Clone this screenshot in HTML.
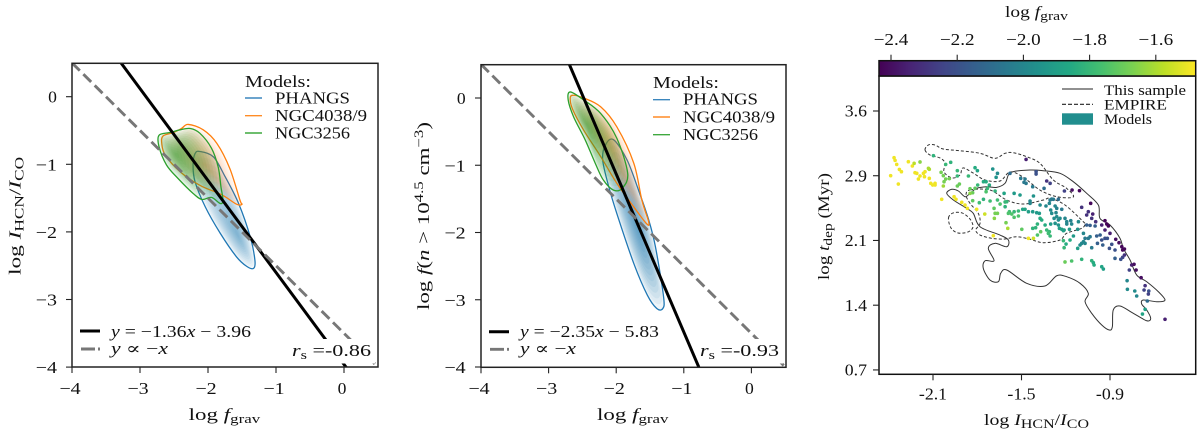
<!DOCTYPE html>
<html lang="en">
<head>
<meta charset="utf-8">
<title>Dense gas fraction versus gravitational boundedness</title>
<style>
html,body{margin:0;padding:0;background:#fff;width:1200px;height:433px;overflow:hidden}
svg{display:block;filter:blur(0.35px)}
text{font-family:"Liberation Serif","DejaVu Serif",serif;fill:#111;font-size:17px}
.i{font-style:italic}
.s{font-size:12.5px}
.lg{font-size:16.5px}
</style>
</head>
<body>
<svg id="chart" xmlns="http://www.w3.org/2000/svg" width="1200" height="433" viewBox="0 0 1200 433">
  <defs>
    <clipPath id="clip-left"><rect x="72" y="63.3" width="306" height="303.7"/></clipPath>
    <clipPath id="clip-mid"><rect x="481" y="64.7" width="305" height="302.6"/></clipPath>
    <clipPath id="clip-right"><rect x="879" y="76" width="316.7" height="298.3"/></clipPath>
    <linearGradient id="viridis-gradient" x1="0" x2="1" y1="0" y2="0"></linearGradient>
  </defs>
  <rect width="1200" height="433" fill="#fff"/>
  <g id="left-marks" clip-path="url(#clip-left)"></g>
  <g id="mid-marks" clip-path="url(#clip-mid)"></g>
  <g id="right-marks" clip-path="url(#clip-right)"></g>

  <rect x="290" y="339" width="85" height="24.5" fill="#fff"/>
  <rect x="699" y="339" width="84" height="24.5" fill="#fff"/>

  <rect x="72" y="63.3" width="306" height="303.7" fill="none" stroke="#222" stroke-width="1.5"/>
  <rect x="481" y="64.7" width="305" height="302.6" fill="none" stroke="#222" stroke-width="1.5"/>
  <rect x="879" y="76" width="316.7" height="298.3" fill="none" stroke="#111" stroke-width="1.5"/>
  <rect x="879" y="60.7" width="316.7" height="15.3" fill="url(#viridis-gradient)" stroke="#111" stroke-width="1.5"/>
  <g id="ticks"></g>

  <!-- left labels -->
  <text x="188.7" y="420" textLength="71.5" lengthAdjust="spacingAndGlyphs">log <tspan class="i">f</tspan><tspan class="s" dy="3">grav</tspan></text>
  <text transform="translate(20.5,275) rotate(-90)" textLength="118" lengthAdjust="spacingAndGlyphs">log <tspan class="i">I</tspan><tspan class="s" dy="3">HCN</tspan><tspan dy="-3">/</tspan><tspan class="i">I</tspan><tspan class="s" dy="3">CO</tspan></text>
  <g>
    <text x="245" y="87" textLength="66" lengthAdjust="spacingAndGlyphs">Models:</text>
    <line x1="245" x2="262" y1="98" y2="98" stroke="#3b86bd" stroke-width="1.4"/>
    <text class="lg" x="275" y="103.5" textLength="75" lengthAdjust="spacingAndGlyphs">PHANGS</text>
    <line x1="245" x2="262" y1="115.7" y2="115.7" stroke="#ff8c26" stroke-width="1.4"/>
    <text class="lg" x="275" y="121" textLength="92" lengthAdjust="spacingAndGlyphs">NGC4038/9</text>
    <line x1="245" x2="262" y1="133" y2="133" stroke="#3fa93f" stroke-width="1.4"/>
    <text class="lg" x="275" y="138.5" textLength="75" lengthAdjust="spacingAndGlyphs">NGC3256</text>
  </g>
  <g>
    <line x1="80" x2="100" y1="331" y2="331" stroke="#000" stroke-width="3"/>
    <text class="lg" x="111" y="337" textLength="140" lengthAdjust="spacingAndGlyphs"><tspan class="i">y</tspan> = −1.36<tspan class="i">x</tspan> − 3.96</text>
    <line x1="81" x2="100" y1="349" y2="349" stroke="#777" stroke-width="2.9" stroke-dasharray="14 3 2 3"/>
    <text class="lg" x="111" y="354" textLength="57" lengthAdjust="spacingAndGlyphs"><tspan class="i">y</tspan> ∝ −<tspan class="i">x</tspan></text>
    <text x="292" y="356" textLength="79" lengthAdjust="spacingAndGlyphs"><tspan class="i">r</tspan><tspan class="s" dy="3">s</tspan><tspan dy="-3"> =-0.86</tspan></text>
  </g>

  <!-- middle labels -->
  <text x="597" y="420" textLength="71.5" lengthAdjust="spacingAndGlyphs">log <tspan class="i">f</tspan><tspan class="s" dy="3">grav</tspan></text>
  <text transform="translate(429,310) rotate(-90)" textLength="188" lengthAdjust="spacingAndGlyphs">log <tspan class="i">f</tspan>(<tspan class="i">n</tspan> &gt; 10<tspan class="s" dy="-6">4.5</tspan><tspan dy="6"> cm</tspan><tspan class="s" dy="-6">−3</tspan><tspan dy="6">)</tspan></text>
  <g>
    <text x="653" y="88" textLength="66" lengthAdjust="spacingAndGlyphs">Models:</text>
    <line x1="653" x2="670" y1="99.7" y2="99.7" stroke="#3b86bd" stroke-width="1.4"/>
    <text class="lg" x="683" y="104.7" textLength="75" lengthAdjust="spacingAndGlyphs">PHANGS</text>
    <line x1="653" x2="670" y1="117" y2="117" stroke="#ff8c26" stroke-width="1.4"/>
    <text class="lg" x="683" y="122.3" textLength="92" lengthAdjust="spacingAndGlyphs">NGC4038/9</text>
    <line x1="653" x2="670" y1="134.7" y2="134.7" stroke="#3fa93f" stroke-width="1.4"/>
    <text class="lg" x="683" y="140" textLength="75" lengthAdjust="spacingAndGlyphs">NGC3256</text>
  </g>
  <g>
    <line x1="489" x2="509" y1="331.7" y2="331.7" stroke="#000" stroke-width="3"/>
    <text class="lg" x="520" y="337" textLength="139" lengthAdjust="spacingAndGlyphs"><tspan class="i">y</tspan> = −2.35<tspan class="i">x</tspan> − 5.83</text>
    <line x1="490" x2="509" y1="349.3" y2="349.3" stroke="#777" stroke-width="2.9" stroke-dasharray="14 3 2 3"/>
    <text class="lg" x="520" y="354" textLength="56" lengthAdjust="spacingAndGlyphs"><tspan class="i">y</tspan> ∝ −<tspan class="i">x</tspan></text>
    <text x="700" y="356" textLength="79" lengthAdjust="spacingAndGlyphs"><tspan class="i">r</tspan><tspan class="s" dy="3">s</tspan><tspan dy="-3"> =-0.93</tspan></text>
  </g>

  <!-- right labels -->
  <text x="1005" y="17" textLength="63" lengthAdjust="spacingAndGlyphs" style="font-size:15.5px">log <tspan class="i">f</tspan><tspan class="s" dy="3">grav</tspan></text>
  <text x="984" y="425" textLength="105" lengthAdjust="spacingAndGlyphs" style="font-size:15.5px">log <tspan class="i">I</tspan><tspan class="s" dy="3">HCN</tspan><tspan dy="-3">/</tspan><tspan class="i">I</tspan><tspan class="s" dy="3">CO</tspan></text>
  <text transform="translate(829,280) rotate(-90)" textLength="107" lengthAdjust="spacingAndGlyphs" style="font-size:15.5px">log <tspan class="i">t</tspan><tspan class="s" dy="3">dep</tspan><tspan dy="-3"> (Myr)</tspan></text>
  <g>
    <line x1="1062" x2="1093" y1="89" y2="89" stroke="#222" stroke-width="1.1"/>
    <text x="1104" y="95" textLength="82" lengthAdjust="spacingAndGlyphs" style="font-size:15px">This sample</text>
    <line x1="1062" x2="1093" y1="104.3" y2="104.3" stroke="#222" stroke-width="1.1" stroke-dasharray="4 2"/>
    <text x="1104" y="109.5" textLength="63" lengthAdjust="spacingAndGlyphs" style="font-size:15px">EMPIRE</text>
    <rect x="1062" y="113.3" width="31" height="11.4" fill="#218e8e"/>
    <text x="1104" y="124" textLength="48" lengthAdjust="spacingAndGlyphs" style="font-size:15px">Models</text>
  </g>
</svg>

<script>
// ---- tick values and labels ----
const leftXTicks = [-4, -3, -2, -1, 0];
const leftYTicks = [0, -1, -2, -3, -4];
const midXTicks = [-4, -3, -2, -1, 0];
const midYTicks = [0, -1, -2, -3, -4];
const rightXTicks = [-2.1, -1.5, -0.9];
const rightXLabels = ['-2.1', '-1.5', '-0.9'];
const rightYTicks = [3.6, 2.875, 2.15, 1.425, 0.7];
const rightYLabels = ['3.6', '2.9', '2.1', '1.4', '0.7'];
const colorbarTicks = [-2.4, -2.2, -2.0, -1.8, -1.6];
const colorbarLabels = ['−2.4', '−2.2', '−2.0', '−1.8', '−1.6'];
const fgravMin = -2.436;
const fgravMax = -1.48;

// ---- fit lines ----
const leftFit = [-1.36, -3.96];
const midFit = [-2.35, -5.83];
const referenceLine = [-1, -3.5];

// ---- model density outlines (log fgrav, log ratio) ----
const leftPhangs = [[-2.12,-0.81],[-1.92,-0.89],[-1.75,-1.18],[-1.55,-1.58],[-1.38,-2.07],[-1.31,-2.42],[-1.33,-2.54],[-1.43,-2.51],[-1.58,-2.37],[-1.82,-2.02],[-2.04,-1.63],[-2.19,-1.26],[-2.22,-1.01],[-2.19,-0.84]];
const leftPhangsPeak = [-1.56, -2.05];
const leftOrange = [[-2.29,-0.41],[-2.07,-0.49],[-1.87,-0.69],[-1.68,-1.06],[-1.53,-1.53],[-1.50,-1.59],[-1.58,-1.59],[-1.80,-1.45],[-2.12,-1.31],[-2.41,-1.11],[-2.63,-0.86],[-2.68,-0.69],[-2.66,-0.58],[-2.51,-0.53],[-2.39,-0.47]];
const leftOrangePeak = [-2.05, -1.0];
const leftGreen = [[-2.72,-0.57],[-2.56,-0.53],[-2.41,-0.49],[-2.26,-0.47],[-2.12,-0.54],[-1.95,-0.76],[-1.85,-1.04],[-1.81,-1.33],[-1.78,-1.53],[-1.82,-1.58],[-1.95,-1.49],[-2.09,-1.52],[-2.22,-1.43],[-2.44,-1.21],[-2.61,-1.01],[-2.72,-0.74]];
const leftGreenPeak = [-2.47, -0.86];

const midPhangs = [[-2.04,-0.62],[-1.84,-0.92],[-1.67,-1.37],[-1.52,-1.81],[-1.42,-2.21],[-1.30,-2.95],[-1.31,-3.13],[-1.40,-3.13],[-1.54,-2.93],[-1.74,-2.46],[-1.99,-1.72],[-2.11,-1.32],[-2.20,-0.92],[-2.16,-0.70]];
const midPhangsPeak = [-1.68, -1.95];
const midOrange = [[-2.65,0.04],[-2.48,0],[-2.23,-0.13],[-1.99,-0.43],[-1.74,-0.97],[-1.62,-1.52],[-1.52,-1.84],[-1.55,-1.87],[-1.74,-1.62],[-1.99,-1.27],[-2.23,-0.87],[-2.48,-0.48],[-2.64,-0.18],[-2.68,-0.03]];
const midOrangePeak = [-2.11, -0.67];
const midGreen = [[-2.68,0.09],[-2.48,-0.03],[-2.23,-0.23],[-1.99,-0.6],[-1.83,-1.12],[-1.91,-1.34],[-2.04,-1.37],[-2.19,-1.22],[-2.31,-0.97],[-2.46,-0.62],[-2.63,-0.28],[-2.71,-0.03]];
const midGreenPeak = [-2.43, -0.4];

// ---- sample and EMPIRE contours (log HCN/CO, log tdep) ----
const sampleContour = [[-2.007,2.678],[-1.973,2.723],[-1.928,2.704],[-1.883,2.64],[-1.849,2.678],[-1.804,2.734],[-1.736,2.752],[-1.668,2.745],[-1.612,2.79],[-1.589,2.883],[-1.558,2.92],[-1.442,2.939],[-1.352,2.931],[-1.239,2.902],[-1.149,2.808],[-1.058,2.678],[-0.979,2.547],[-0.968,2.398],[-0.9,2.323],[-0.832,2.174],[-0.81,2.062],[-0.764,1.931],[-0.719,1.763],[-0.651,1.688],[-0.572,1.576],[-0.527,1.483],[-0.583,1.464],[-0.674,1.483],[-0.685,1.438],[-0.651,1.371],[-0.624,1.278],[-0.651,1.251],[-0.742,1.334],[-0.832,1.416],[-0.878,1.371],[-0.884,1.184],[-0.905,1.147],[-0.956,1.203],[-1.024,1.334],[-1.069,1.464],[-1.047,1.558],[-1.103,1.67],[-1.194,1.744],[-1.261,1.755],[-1.341,1.64],[-1.465,1.67],[-1.6,1.819],[-1.641,1.782],[-1.657,1.688],[-1.714,1.707],[-1.759,1.838],[-1.747,1.923],[-1.686,1.923],[-1.725,2.062],[-1.68,2.118],[-1.6,2.08],[-1.589,2.155],[-1.646,2.211],[-1.781,2.304],[-1.827,2.454],[-1.872,2.51],[-1.962,2.603]];
const empireUpper = [[-2.154,3.163],[-2.132,3.219],[-2.086,3.219],[-2.03,3.174],[-1.917,3.155],[-1.781,3.126],[-1.68,3.07],[-1.612,3.126],[-1.556,3.133],[-1.465,3.088],[-1.375,3.014],[-1.284,2.827],[-1.194,2.734],[-1.149,2.637],[-1.261,2.64],[-1.375,2.715],[-1.49,2.861],[-1.578,2.917],[-1.646,2.816],[-1.747,2.827],[-1.829,2.906],[-1.897,2.962],[-1.917,2.883],[-1.971,2.85],[-2.025,2.917],[-2.019,3.018],[-2.053,3.074],[-2.12,3.107]];
const empireLower = [[-1.849,2.715],[-1.714,2.715],[-1.6,2.603],[-1.488,2.558],[-1.352,2.603],[-1.307,2.622],[-1.205,2.547],[-1.081,2.36],[-1.069,2.334],[-1.092,2.286],[-1.194,2.23],[-1.239,2.155],[-1.352,2.125],[-1.442,2.163],[-1.533,2.192],[-1.612,2.166],[-1.702,2.174],[-1.781,2.211],[-1.81,2.267],[-1.781,2.342],[-1.793,2.454],[-1.849,2.566],[-1.876,2.659]];
const empireIsland = [[-1.995,2.402],[-1.964,2.458],[-1.903,2.458],[-1.849,2.39],[-1.829,2.301],[-1.863,2.245],[-1.93,2.234],[-1.978,2.29]];

// ---- scatter points ----
const pointX = [
-2.364,-2.357,-2.346,-2.328,-2.314,-2.387,-2.335,-2.267,-2.240,-2.228,
-2.222,-2.210,-2.188,-2.165,-2.154,-2.131,-2.125,-2.199,-2.158,-2.125,
-2.115,-2.086,-2.102,-2.086,-2.030,-2.188,-2.041,-1.957,-1.944,-1.905,
-1.883,-1.867,-1.804,-1.749,-1.691,-1.593,-2.045,-2.030,-1.989,-2.014,
-2.025,-1.921,-1.935,-1.935,-1.849,-1.831,-2.097,-2.014,-1.980,-1.935,
-1.860,-1.815,-1.799,-1.695,-1.663,-1.672,-1.578,-1.469,-1.401,-1.401,
-1.505,-1.476,-1.483,-1.469,-1.424,-1.758,-1.740,-1.718,-1.731,-1.679,
-1.740,-1.797,-1.815,-1.849,-1.831,-1.786,-1.758,-1.713,-1.663,-1.618,
-1.550,-1.510,-1.645,-1.611,-1.600,-1.686,-1.611,-1.582,-1.550,-1.521,
-1.492,-1.476,-1.589,-1.566,-1.663,-1.684,-1.679,-1.550,-1.521,-1.605,
-1.498,-1.424,-1.404,-1.392,-1.392,-1.442,-1.419,-1.442,-1.453,-1.424,
-1.397,-1.379,-1.419,-1.453,
-1.329,-1.306,-1.347,-1.209,-1.157,-1.107,-1.334,-1.374,-1.306,-1.295,
-1.284,-1.250,-1.311,-1.272,-1.261,-1.227,-1.302,-1.295,-1.266,-1.092,
-1.058,-1.047,-1.017,-1.024,-1.031,-0.997,-0.934,-0.922,-0.911,-0.956,
-0.900,-0.934,-1.058,-1.035,-1.001,-0.967,-0.990,-0.956,-0.934,-0.918,
-0.949,-0.985,-1.035,-1.047,-1.069,-1.080,-1.114,-1.119,-1.175,-1.216,
-1.148,-1.171,-1.216,-1.080,-1.092,-1.103,-1.069,-1.119,-1.024,-1.211,
-1.198,-0.861,-0.839,-0.820,-0.802,-0.814,-0.888,-0.904,-0.866,-0.802,
-0.814,-0.827,-0.866,-0.753,-0.737,-0.769,-0.723,-0.689,-0.784,-0.662,
-0.669,-0.637,-0.640,-0.782,-0.732,-0.719,-0.647,-0.662,-0.680,-0.527,
-1.205,-1.160,-1.092,-1.024,-1.013,-1.008,-0.956,-0.945,
-1.374,-1.363,-1.340,-1.302,-1.279,-1.261,-1.250,-1.239,-1.272,-1.250,
-1.205,-1.193,-1.166,-1.160,-1.193,-1.329,-1.311,-1.370,-1.318,-1.306,
-1.243,-1.227,-1.211
];
const pointY = [
3.077,3.047,3.002,2.946,2.920,2.876,2.782,3.032,2.984,3.014,
2.909,2.902,2.872,2.902,2.920,2.958,2.947,2.838,2.864,2.846,
2.790,2.790,2.771,2.771,2.760,3.029,2.611,2.640,2.611,2.577,
2.547,2.510,2.499,2.446,2.204,2.286,2.913,2.876,2.842,2.838,
2.808,2.782,2.760,2.872,2.730,2.685,3.100,3.002,3.025,2.932,
2.872,2.965,2.932,2.950,2.902,2.857,2.902,3.058,2.920,2.894,
2.846,2.838,2.801,2.790,2.752,2.808,2.808,2.771,2.734,2.704,
2.696,2.771,2.734,2.678,2.596,2.573,2.611,2.592,2.603,2.678,
2.678,2.659,2.558,2.581,2.584,2.510,2.528,2.472,2.472,2.480,
2.499,2.499,2.454,2.446,2.454,2.398,2.454,2.409,2.424,2.349,
2.275,2.286,2.293,2.334,2.211,2.592,2.648,2.566,2.472,2.472,
2.461,2.454,2.174,2.174,
2.816,2.790,2.734,2.704,2.715,2.708,2.536,2.547,2.603,2.614,
2.611,2.611,2.566,2.536,2.510,2.499,2.491,2.454,2.461,2.521,
2.435,2.472,2.446,2.398,2.566,2.360,2.372,2.334,2.312,2.323,
2.230,2.267,2.323,2.319,2.312,2.211,2.200,2.155,2.174,2.174,
2.099,2.118,2.192,2.174,2.174,2.230,2.360,2.275,2.275,2.260,
2.200,2.155,2.148,2.136,2.118,2.099,2.118,2.062,2.069,2.069,
2.110,2.163,2.125,2.080,2.054,2.043,2.107,2.062,2.043,1.987,
1.961,1.939,1.950,1.875,1.883,1.819,1.819,1.733,1.700,1.644,
1.595,1.584,1.550,1.603,1.584,1.528,1.472,1.379,1.326,1.267,
1.909,1.920,1.939,1.924,1.901,1.875,1.856,1.830,
2.398,2.379,2.323,2.334,2.398,2.416,2.379,2.398,2.342,2.323,
2.398,2.360,2.372,2.334,2.334,2.267,2.248,2.248,2.230,2.200,
2.286,2.275,2.267
];
const pointF = [
-1.5,-1.5,-1.5,-1.5,-1.5,-1.5,-1.5,-1.5,-1.5,-1.58,
-1.5,-1.5,-1.5,-1.5,-1.5,-1.6,-1.6,-1.5,-1.5,-1.5,
-1.5,-1.5,-1.5,-1.5,-1.62,-1.65,-1.5,-1.5,-1.5,-1.5,
-1.5,-1.5,-1.5,-1.55,-1.5,-1.6,-1.68,-1.68,-1.68,-1.68,
-1.68,-1.7,-1.7,-1.8,-1.7,-1.7,-1.82,-1.8,-1.82,-1.8,
-1.8,-1.85,-1.88,-1.95,-1.98,-1.95,-2.1,-2.35,-2.2,-2.2,
-2.05,-2.05,-2.05,-2.05,-2.05,-1.85,-1.85,-1.85,-1.8,-1.82,
-1.75,-1.8,-1.72,-1.65,-1.72,-1.78,-1.82,-1.78,-1.78,-1.88,
-1.92,-1.92,-1.75,-1.8,-1.8,-1.72,-1.82,-1.78,-1.8,-1.8,
-1.88,-1.88,-1.75,-1.75,-1.68,-1.65,-1.68,-1.75,-1.75,-1.68,
-1.72,-1.82,-1.82,-1.82,-1.75,-2.0,-1.95,-2.0,-1.9,-1.92,
-1.92,-1.92,-1.55,-1.5,
-2.3,-2.25,-2.1,-2.25,-2.4,-2.42,-2.0,-1.98,-2.05,-2.05,
-2.05,-2.1,-2.0,-2.0,-2.02,-2.05,-1.98,-1.98,-2.0,-2.3,
-2.3,-2.3,-2.35,-2.3,-2.42,-2.3,-2.43,-2.43,-2.43,-2.35,
-2.35,-2.35,-2.15,-2.15,-2.15,-2.15,-2.15,-2.2,-2.2,-2.2,
-2.15,-2.15,-2.05,-2.05,-2.05,-2.0,-1.98,-1.95,-1.92,-1.9,
-1.92,-1.85,-1.8,-2.0,-2.0,-1.98,-2.0,-1.9,-2.05,-1.8,
-1.85,-2.4,-2.4,-2.42,-2.42,-2.42,-2.2,-2.2,-2.2,-2.3,
-2.25,-2.2,-2.15,-2.35,-2.4,-2.25,-2.4,-2.4,-2.0,-2.3,
-2.25,-2.2,-2.25,-1.98,-1.98,-2.0,-2.1,-1.9,-1.88,-2.35,
-1.7,-1.75,-1.82,-1.82,-1.85,-1.85,-1.88,-1.9,
-1.85,-1.85,-1.85,-1.92,-1.98,-1.98,-1.98,-1.98,-1.95,-1.95,
-2.0,-2.0,-2.02,-2.0,-2.0,-1.8,-1.8,-1.72,-1.78,-1.8,
-1.9,-1.9,-1.9
];
const viridisStops = ['#440154','#482475','#414487','#355f8d','#2a788e','#21918c','#22a884','#44bf70','#7ad151','#bddf26','#fde725'];

// ---- axis functions ----
function xLeft(v) { return 72 + (v + 4) * 68; }
function yLeft(v) { return 96.7 - v * 67.6; }
function xMid(v) { return 481 + (v + 4) * 67.6; }
function yMid(v) { return 98 - v * 67.25; }
function xRight(v) { return 933 + (v + 2.1) * 147.5; }
function yRight(v) { return 111 + (3.6 - v) / 0.0112; }
function xBar(v) { return 891 + (v + 2.4) * 331; }

const NS = 'http://www.w3.org/2000/svg';
function mk(parent, tag, attrs, name) {
  const el = document.createElementNS(NS, tag);
  for (const k in attrs) el.setAttribute(k, attrs[k]);
  
  
  parent.appendChild(el);
  return el;
}
function smooth(pts) {
  const n = pts.length;
  let d = 'M' + pts[0][0].toFixed(2) + ' ' + pts[0][1].toFixed(2);
  for (let i = 0; i < n; i++) {
    const p0 = pts[(i - 1 + n) % n], p1 = pts[i], p2 = pts[(i + 1) % n], p3 = pts[(i + 2) % n];
    const c1x = p1[0] + (p2[0] - p0[0]) / 6, c1y = p1[1] + (p2[1] - p0[1]) / 6;
    const c2x = p2[0] - (p3[0] - p1[0]) / 6, c2y = p2[1] - (p3[1] - p1[1]) / 6;
    d += 'C' + c1x.toFixed(2) + ' ' + c1y.toFixed(2) + ' ' + c2x.toFixed(2) + ' ' + c2y.toFixed(2) + ' ' + p2[0].toFixed(2) + ' ' + p2[1].toFixed(2);
  }
  return d + 'Z';
}
function hex(c) { return [parseInt(c.substr(1, 2), 16), parseInt(c.substr(3, 2), 16), parseInt(c.substr(5, 2), 16)]; }
function viridis(f) {
  let t = (f - fgravMin) / (fgravMax - fgravMin);
  t = Math.max(0, Math.min(1, t)) * (viridisStops.length - 1);
  const i = Math.min(viridisStops.length - 2, Math.floor(t));
  const a = hex(viridisStops[i]), b = hex(viridisStops[i + 1]), u = t - i;
  return 'rgb(' + Math.round(a[0] + (b[0] - a[0]) * u) + ',' + Math.round(a[1] + (b[1] - a[1]) * u) + ',' + Math.round(a[2] + (b[2] - a[2]) * u) + ')';
}
function drawKde(g, outline, peak, color, alpha, sx, sy, name) {
  const px = outline.map(p => [sx(p[0]), sy(p[1])]);
  const cx = sx(peak[0]), cy = sy(peak[1]);
  const levels = 14;
  for (let k = 0; k < levels; k++) {
    const s = 1 - k / levels;
    const scaled = px.map(p => [cx + (p[0] - cx) * s, cy + (p[1] - cy) * s]);
    mk(g, 'path', { d: smooth(scaled), fill: color, 'fill-opacity': alpha, stroke: 'none' }, name + '-density-level');
  }
  mk(g, 'path', { d: smooth(px), fill: 'none', stroke: color, 'stroke-width': 1.3 }, name + '-outline');
}
function drawLine(g, fit, sx, sy, x0, x1, attrs, name) {
  const a = Object.assign({ x1: sx(x0), x2: sx(x1), y1: sy(fit[0] * x0 + fit[1]), y2: sy(fit[0] * x1 + fit[1]) }, attrs);
  mk(g, 'line', a, name);
}
function labelWidth(s) {
  let w = 0;
  for (const ch of s) w += (ch === '−') ? 12.5 : (ch === '-') ? 6 : (ch === '.') ? 4.6 : 8.8;
  return w;
}

const leftG = document.getElementById('left-marks');
drawKde(leftG, leftPhangs, leftPhangsPeak, '#1f77b4', 0.055, xLeft, yLeft, 'left-phangs');
drawKde(leftG, leftOrange, leftOrangePeak, '#ff7f0e', 0.045, xLeft, yLeft, 'left-ngc4038');
drawKde(leftG, leftGreen, leftGreenPeak, '#2ca02c', 0.07, xLeft, yLeft, 'left-ngc3256');
drawLine(leftG, leftFit, xLeft, yLeft, -3.5, 0.2, { stroke: '#000', 'stroke-width': 3 }, 'left-fit-line');
drawLine(leftG, referenceLine, xLeft, yLeft, -4, 0.5, { stroke: '#777', 'stroke-width': 2.9, 'stroke-dasharray': '11 5' }, 'left-reference-line');

const midG = document.getElementById('mid-marks');
drawKde(midG, midPhangs, midPhangsPeak, '#1f77b4', 0.075, xMid, yMid, 'middle-phangs');
drawKde(midG, midOrange, midOrangePeak, '#ff7f0e', 0.05, xMid, yMid, 'middle-ngc4038');
drawKde(midG, midGreen, midGreenPeak, '#2ca02c', 0.07, xMid, yMid, 'middle-ngc3256');
drawLine(midG, midFit, xMid, yMid, -2.85, -0.6, { stroke: '#000', 'stroke-width': 3 }, 'middle-fit-line');
drawLine(midG, referenceLine, xMid, yMid, -4, 0.5, { stroke: '#777', 'stroke-width': 2.9, 'stroke-dasharray': '11 5' }, 'middle-reference-line');

const rightG = document.getElementById('right-marks');
function rightPath(c, dash, name) {
  const px = c.map(p => [xRight(p[0]), yRight(p[1])]);
  const attrs = { d: smooth(px), fill: 'none', stroke: '#333', 'stroke-width': 1 };
  if (dash) attrs['stroke-dasharray'] = '3 2';
  mk(rightG, 'path', attrs, name);
}
rightPath(sampleContour, false, 'this-sample-contour');
rightPath(empireUpper, true, 'empire-contour-upper');
rightPath(empireLower, true, 'empire-contour-lower');
rightPath(empireIsland, true, 'empire-contour-island');
for (let i = 0; i < pointX.length; i++) {
  mk(rightG, 'circle', { cx: xRight(pointX[i]).toFixed(2), cy: yRight(pointY[i]).toFixed(2), r: 1.8, fill: viridis(pointF[i]) }, 'sample-point');
}

// colorbar gradient
const grad = document.getElementById('viridis-gradient');
viridisStops.forEach(function (c, i) {
  mk(grad, 'stop', { offset: (i / (viridisStops.length - 1)), 'stop-color': c }, 'colorbar-stop');
});

// ticks
const tg = document.getElementById('ticks');
function tickLabel(x, y, s, anchor, name) {
  const t = mk(tg, 'text', { x: x, y: y, 'text-anchor': anchor, textLength: labelWidth(s), lengthAdjust: 'spacingAndGlyphs' }, name);
  t.textContent = s;
}
function minus(v) { return v < 0 ? '−' + Math.abs(v) : String(v); }
leftXTicks.forEach(function (v) {
  mk(tg, 'line', { x1: xLeft(v), x2: xLeft(v), y1: 367, y2: 373, stroke: '#222', 'stroke-width': 1.1 }, 'left-x-tick');
  tickLabel(xLeft(v) - 2, 394, minus(v), 'middle', 'left-x-tick-label');
});
leftYTicks.forEach(function (v) {
  mk(tg, 'line', { x1: 66, x2: 72, y1: yLeft(v), y2: yLeft(v), stroke: '#222', 'stroke-width': 1.1 }, 'left-y-tick');
  tickLabel(57, yLeft(v) + 6, minus(v), 'end', 'left-y-tick-label');
});
midXTicks.forEach(function (v) {
  mk(tg, 'line', { x1: xMid(v), x2: xMid(v), y1: 367.3, y2: 373.3, stroke: '#222', 'stroke-width': 1.1 }, 'middle-x-tick');
  tickLabel(xMid(v) - 2, 394, minus(v), 'middle', 'middle-x-tick-label');
});
midYTicks.forEach(function (v) {
  mk(tg, 'line', { x1: 475, x2: 481, y1: yMid(v), y2: yMid(v), stroke: '#222', 'stroke-width': 1.1 }, 'middle-y-tick');
  tickLabel(465.7, yMid(v) + 6, minus(v), 'end', 'middle-y-tick-label');
});
rightXTicks.forEach(function (v, i) {
  mk(tg, 'line', { x1: xRight(v), x2: xRight(v), y1: 374.3, y2: 380.3, stroke: '#222', 'stroke-width': 1.1 }, 'right-x-tick');
  tickLabel(xRight(v), 399.5, rightXLabels[i], 'middle', 'right-x-tick-label');
});
rightYTicks.forEach(function (v, i) {
  mk(tg, 'line', { x1: 873, x2: 879, y1: yRight(v), y2: yRight(v), stroke: '#222', 'stroke-width': 1.1 }, 'right-y-tick');
  tickLabel(867, yRight(v) + 5.7, rightYLabels[i], 'end', 'right-y-tick-label');
});
colorbarTicks.forEach(function (v, i) {
  mk(tg, 'line', { x1: xBar(v), x2: xBar(v), y1: 54.7, y2: 60.7, stroke: '#222', 'stroke-width': 1.1 }, 'colorbar-tick');
  tickLabel(xBar(v), 45, colorbarLabels[i], 'middle', 'colorbar-tick-label');
});
</script>
</body>
</html>
